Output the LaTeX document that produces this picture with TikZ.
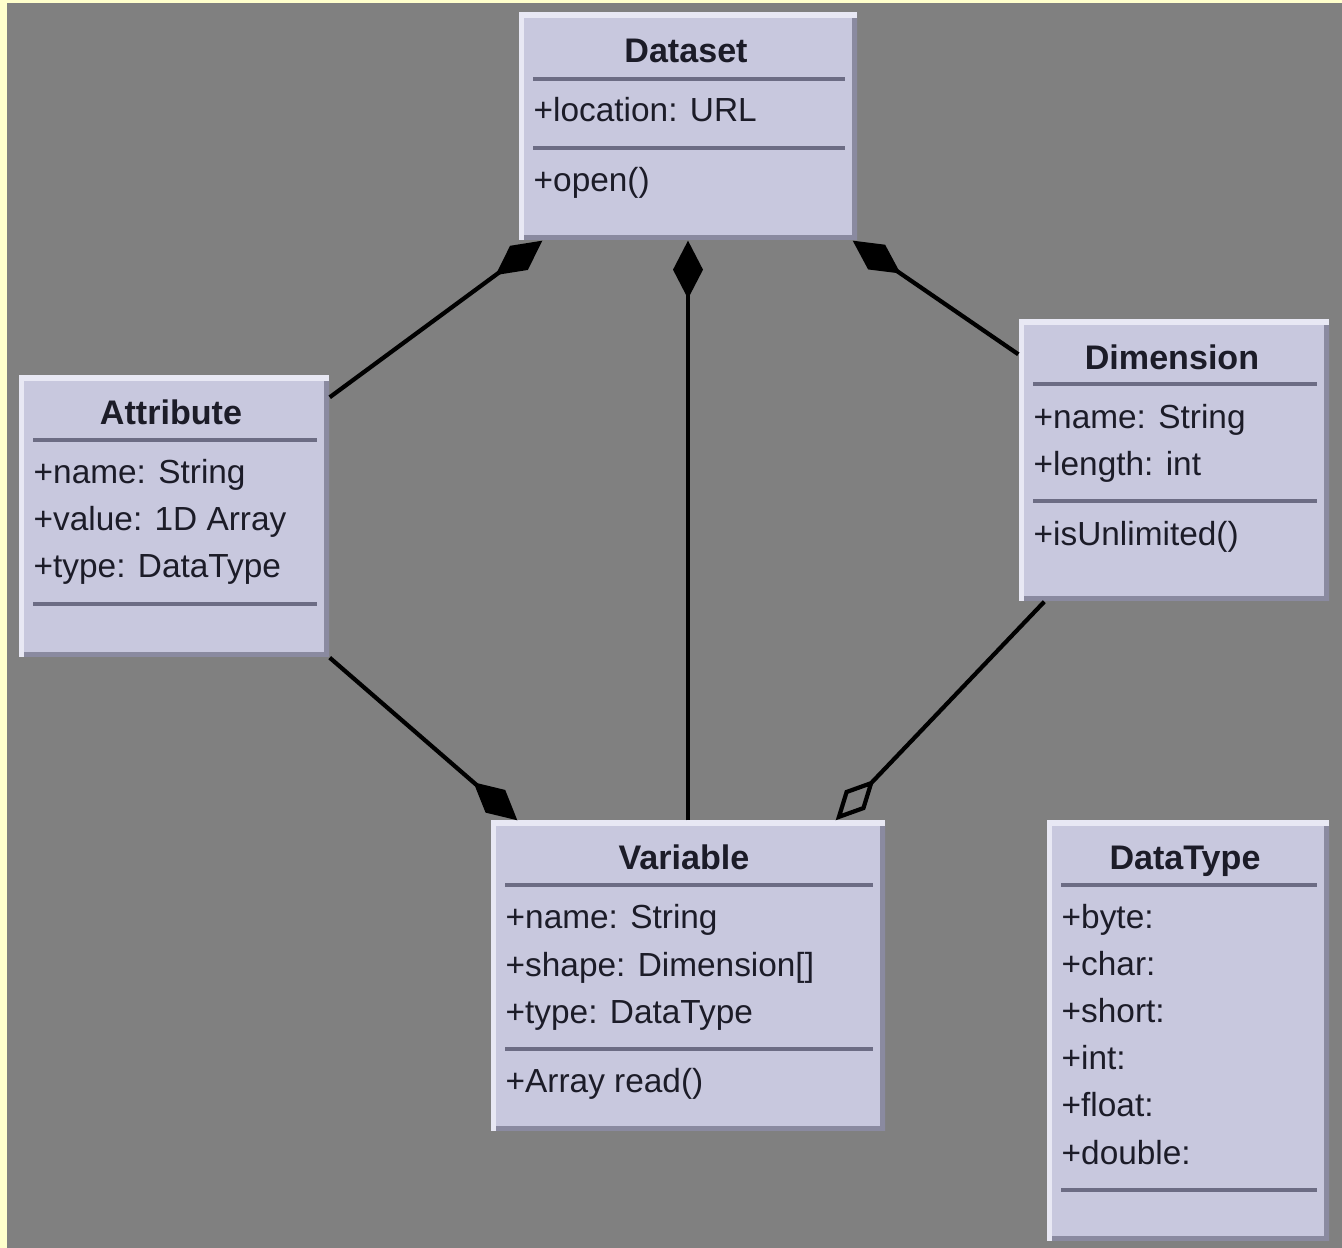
\documentclass[tikz,border=0pt]{standalone}
\usepackage{fontspec}
\setmainfont{Liberation Sans}
\usetikzlibrary{arrows.meta,calc}
\definecolor{slidebg}{HTML}{FFFFCC}
\definecolor{canvas}{HTML}{808080}
\definecolor{boxfill}{HTML}{C8C8DE}
\definecolor{boxdark}{HTML}{8A8AA0}
\definecolor{boxlight}{HTML}{E8E8F4}
\definecolor{sepline}{HTML}{6C6C84}
\definecolor{ink}{HTML}{1C1C28}
\tikzset{
  umlbox/.style={rectangle, fill=boxfill, inner sep=0pt, path picture={
    \draw[boxdark, line width=3pt] (path picture bounding box.south west) -- (path picture bounding box.south east) -- (path picture bounding box.north east);
    \draw[boxlight, line width=3pt] (path picture bounding box.south west) -- (path picture bounding box.north west) -- (path picture bounding box.north east);}},
  classname/.style={anchor=base, inner sep=0pt, text=ink, font=\fontsize{9.7}{11}\selectfont\bfseries},
  member/.style={anchor=base west, inner sep=0pt, text=ink, font=\fontsize{9.5}{11}\selectfont},
  divider/.style={sepline, line width=1.1pt},
  assoc/.style={black, line width=1.2pt},
  composite/.style={assoc, -{Diamond[length=5.8mm, width=3mm]}},
  shared/.style={assoc, -{Diamond[open, length=5.6mm, width=2.8mm]}},
}

\begin{document}
\begin{tikzpicture}%
\useasboundingbox (0,0) rectangle (13.42,12.48);%
\fill[slidebg] (0,0) rectangle (13.42,12.48);%
\fill[canvas] (0.07,0) rectangle (13.42,12.45);%
% Dataset
\node[umlbox, minimum width=3.38cm, minimum height=2.27cm] (dataset) at (6.88,11.215) {};%
\node[classname] (datasetname) at (6.86,11.85) {Dataset};%
\draw[divider] (5.33,11.69) -- (8.45,11.69);%
\node[member] (datasetloc) at (5.33,11.26) {+location: URL};%
\draw[divider] (5.33,11.00) -- (8.45,11.00);%
\node[member] (datasetopen) at (5.33,10.56) {+open()};%
% Attribute
\node[umlbox, minimum width=3.10cm, minimum height=2.81cm] (attribute) at (1.74,7.315) {};%
\node[classname] (attributename) at (1.71,8.23) {Attribute};%
\draw[divider] (0.33,8.08) -- (3.17,8.08);%
\node[member] (attrname) at (0.33,7.64) {+name: String};%
\node[member] (attrvalue) at (0.33,7.17) {+value: 1D Array};%
\node[member] (attrtype) at (0.33,6.70) {+type: DataType};%
\draw[divider] (0.33,6.44) -- (3.17,6.44);%
% Dimension
\node[umlbox, minimum width=3.10cm, minimum height=2.81cm] (dimension) at (11.74,7.875) {};%
\node[classname] (dimensionname) at (11.72,8.78) {Dimension};%
\draw[divider] (10.33,8.64) -- (13.17,8.64);%
\node[member] (dimname) at (10.33,8.19) {+name: String};%
\node[member] (dimlength) at (10.33,7.72) {+length: int};%
\draw[divider] (10.33,7.47) -- (13.17,7.47);%
\node[member] (dimunlim) at (10.33,7.02) {+isUnlimited()};%
% Variable
\node[umlbox, minimum width=3.94cm, minimum height=3.10cm] (variable) at (6.88,2.72) {};%
\node[classname] (variablename) at (6.84,3.78) {Variable};%
\draw[divider] (5.05,3.63) -- (8.73,3.63);%
\node[member] (varname) at (5.05,3.19) {+name: String};%
\node[member] (varshape) at (5.05,2.71) {+shape: Dimension[]};%
\node[member] (vartype) at (5.05,2.24) {+type: DataType};%
\draw[divider] (5.05,1.99) -- (8.73,1.99);%
\node[member] (varread) at (5.05,1.55) {+Array read()};%
% DataType
\node[umlbox, minimum width=2.82cm, minimum height=4.20cm] (datatype) at (11.88,2.17) {};%
\node[classname] (datatypename) at (11.85,3.78) {DataType};%
\draw[divider] (10.61,3.63) -- (13.17,3.63);%
\node[member] (dtbyte) at (10.61,3.19) {+byte:};%
\node[member] (dtchar) at (10.61,2.72) {+char:};%
\node[member] (dtshort) at (10.61,2.25) {+short:};%
\node[member] (dtint) at (10.61,1.78) {+int:};%
\node[member] (dtfloat) at (10.61,1.31) {+float:};%
\node[member] (dtdouble) at (10.61,0.83) {+double:};%
\draw[divider] (10.61,0.58) -- (13.17,0.58);%
% links
\draw[composite] ($(attribute.north east)+(0,-0.22)$) -- ($(dataset.south west)+(0.24,0)$);%
\draw[composite] (variable.north) -- (dataset.south);%
\draw[composite] ($(dimension.north west)+(0,-0.35)$) -- ($(dataset.south east)+(-0.05,0)$);%
\draw[composite] (attribute.south east) -- ($(variable.north west)+(0.27,0)$);%
\draw[shared] ($(dimension.south west)+(0.26,0)$) -- ($(variable.north east)+(-0.50,0)$);%
\end{tikzpicture}
\end{document}
